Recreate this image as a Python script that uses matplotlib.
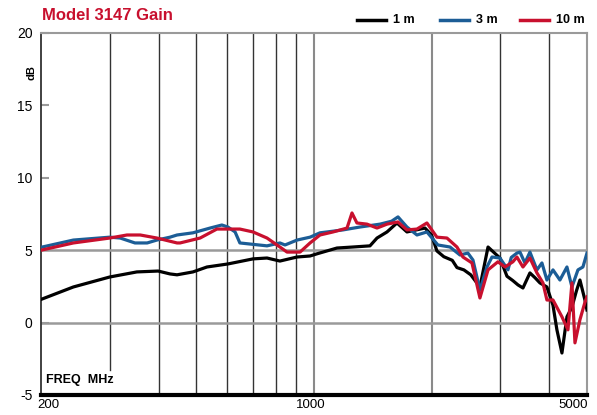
import matplotlib
matplotlib.use("Agg")
import matplotlib.pyplot as plt
from matplotlib.lines import Line2D
from matplotlib.ticker import NullLocator

plt.rcParams['font.family'] = ['Liberation Sans Narrow', 'Liberation Sans', 'DejaVu Sans']

# ---- data (MHz, dB) ----
f_1m = [200, 242, 300, 352, 399, 428, 446, 490, 532, 602, 698, 758, 818, 905, 977, 1018,
        1145, 1258, 1391, 1450, 1538, 1631, 1730, 1924, 2000, 2064, 2150, 2260, 2323, 2420,
        2520, 2660, 2790, 2993, 3120, 3230, 3330, 3428, 3572, 3680, 3789, 3948, 4092, 4188,
        4314, 4443, 4576, 4700, 4797, 4940, 5000]
g_1m = [1.6, 2.46, 3.15, 3.5, 3.56, 3.36, 3.3, 3.5, 3.84, 4.05, 4.4, 4.46, 4.25, 4.53, 4.6, 4.75,
        5.15, 5.22, 5.3, 5.84, 6.26, 6.88, 6.26, 6.53, 6.05, 4.95, 4.55, 4.3, 3.8, 3.64,
        3.3, 2.46, 5.22, 4.46, 3.2, 2.9, 2.6, 2.39, 3.43, 3.1, 2.74, 2.46, 1.2, -0.5,
        -2.1, 0.4, 1.07, 2.2, 2.94, 1.56, 0.87]

f_3m = [200, 242, 300, 319, 348, 374, 396, 428, 446, 490, 542, 581, 602, 628, 646, 700,
        758, 818, 843, 905, 977, 1036, 1080, 1186, 1311, 1476, 1580, 1641, 1730, 1835, 1946,
        2076, 2230, 2364, 2478, 2553, 2660, 2772, 2856, 2993, 3138, 3200, 3308, 3368, 3468,
        3572, 3723, 3834, 3948, 4092, 4263, 4443, 4576, 4741, 4882, 5000]
g_3m = [5.2, 5.7, 5.9, 5.84, 5.5, 5.5, 5.7, 5.9, 6.05, 6.2, 6.53, 6.74, 6.6, 6.26, 5.5, 5.4,
        5.3, 5.5, 5.36, 5.7, 5.9, 6.2, 6.26, 6.4, 6.6, 6.8, 7.0, 7.3, 6.6, 6.05, 6.26,
        5.36, 5.22, 4.67, 4.8, 4.32, 2.25, 3.84, 4.53, 4.46, 3.64, 4.5, 4.8, 4.87, 4.12,
        4.87, 3.64, 4.12, 2.94, 3.64, 2.94, 3.84, 2.46, 3.64, 3.84, 4.8]

f_10m = [200, 242, 300, 332, 359, 396, 446, 454, 511, 564, 609, 646, 698, 758, 818, 853,
         921, 977, 1036, 1119, 1215, 1251, 1288, 1367, 1450, 1538, 1641, 1730, 1835, 1946,
         2064, 2190, 2323, 2406, 2538, 2660, 2790, 2958, 3083, 3231, 3308, 3428, 3572, 3723,
         3857, 3948, 4092, 4314, 4470, 4576, 4658, 4797, 4940, 5000]
g_10m = [5.0, 5.5, 5.84, 6.05, 6.05, 5.84, 5.5, 5.5, 5.84, 6.46, 6.46, 6.46, 6.26, 5.84, 5.22, 4.87,
         4.87, 5.5, 6.05, 6.26, 6.53, 7.57, 6.88, 6.8, 6.53, 6.8, 6.95, 6.4, 6.46, 6.88,
         5.9, 5.84, 5.22, 4.53, 4.12, 1.7, 3.64, 4.2, 3.84, 4.2, 4.53, 3.84, 4.46, 3.43,
         2.74, 1.56, 1.56, 0.4, -0.5, 2.74, -1.4, 0.2, 1.4, 1.77]

y_ticks = [-5, 0, 5, 10, 15, 20]
grid_dark = [300, 400, 500, 600, 700, 800, 900, 3000, 4000]
grid_light = [1000, 2000]
x_labels = [200, 1000, 5000]

BLACK = '#000000'
BLUE = '#1c5d96'
RED = '#c8102e'

fig = plt.figure(figsize=(5.97, 4.15), dpi=100)
ax = fig.add_axes([0.0687, 0.0482, 0.9145, 0.8723])
ax.set_xscale('log')
ax.set_xlim(200, 5000)
ax.set_ylim(-5, 20)

# grid
for f in grid_dark:
    bot = -3.3 if f == 300 else -5
    ax.plot([f, f], [bot, 20], color='#333333', lw=1.0, zorder=1)
for f in grid_light:
    ax.plot([f, f], [-5, 20], color='#8a8a8a', lw=1.5, zorder=1)
for y in [0, 5]:
    ax.axhline(y, color='#9a9a9a', lw=1.8, zorder=1)

# curves
ax.plot(f_1m, g_1m, color=BLACK, lw=2.3, zorder=3)
ax.plot(f_3m, g_3m, color=BLUE, lw=2.3, zorder=4)
ax.plot(f_10m, g_10m, color=RED, lw=2.3, zorder=5)

# spines
ax.spines['left'].set_color('#333333')
ax.spines['left'].set_linewidth(1.3)
ax.spines['bottom'].set_color('black')
ax.spines['bottom'].set_linewidth(3)
ax.spines['top'].set_color('#9a9a9a')
ax.spines['top'].set_linewidth(1.5)
ax.spines['right'].set_color('#9a9a9a')
ax.spines['right'].set_linewidth(1.5)

# ticks
ax.set_yticks(y_ticks)
ax.set_yticklabels([str(v) for v in y_ticks], fontsize=10)
ax.tick_params(axis='y', direction='in', length=6, color='#9a9a9a', width=1.5, pad=6)
ax.xaxis.set_major_locator(NullLocator())
ax.xaxis.set_minor_locator(NullLocator())
for v in x_labels:
    ha = {200: 'left', 1000: 'center', 5000: 'right'}[v]
    off = {200: -3, 1000: -2, 5000: 1}[v]
    ax.annotate(str(v), (v, 0), xycoords=('data', 'axes fraction'),
                xytext=(off, -3), textcoords='offset points', ha=ha, va='top', fontsize=9.5)

ax.text(0.01, 0.025, 'FREQ  MHz', transform=ax.transAxes, fontsize=9, fontweight='bold',
        ha='left', va='bottom')

fig.text(0.052, 0.826, 'dB', rotation=90, fontsize=8, fontweight='bold', ha='center', va='center')

# title
fig.text(0.07, 0.962, 'Model 3147 Gain', color=RED, fontsize=12, fontweight='bold',
         ha='left', va='center')

# legend
leg_items = [('1 m', BLACK, 357), ('3 m', BLUE, 440), ('10 m', RED, 520)]
for lab, col, x0 in leg_items:
    fig.add_artist(Line2D([x0 / 597, (x0 + 29) / 597], [1 - 20 / 415, 1 - 20 / 415],
                          color=col, lw=2.5))
    fig.text((x0 + 36) / 597, 1 - 20 / 415, lab, fontsize=9, fontweight='bold',
             ha='left', va='center')

fig.savefig('out.png', dpi=100)
